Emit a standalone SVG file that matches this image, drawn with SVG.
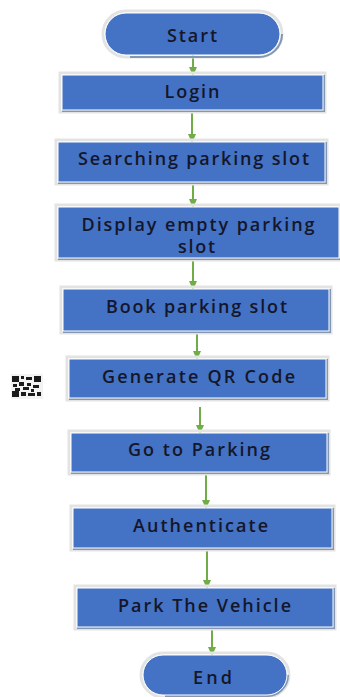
<svg xmlns="http://www.w3.org/2000/svg" width="340" height="697" viewBox="0 0 340 697">
<defs>
<marker id="ah" markerWidth="9" markerHeight="8" refX="8" refY="4" orient="auto" markerUnits="userSpaceOnUse">
<path d="M0,0 L9,4 L0,8 Z" fill="#70AD47"/>
</marker>
</defs>
<style>
.box{fill:#4472C4;stroke:#ffffff;stroke-width:1}
.halo{fill:none;stroke:#e3e3e3;stroke-width:3}
.sh{fill:none;stroke:#8497B0;stroke-width:2}
.t{font-family:"Open Sans","Noto Sans","Liberation Sans",sans-serif;font-weight:600;font-size:18px;fill:#14162a;text-anchor:middle;dominant-baseline:central}
.c{stroke:#70AD47;stroke-width:2;fill:none;marker-end:url(#ah)}
</style>
<rect width="340" height="697" fill="#ffffff"/>

<g id="connectors">
<line class="c" x1="193" y1="53" x2="193" y2="75"/>
<line class="c" x1="192" y1="113" x2="192" y2="142"/>
<line class="c" x1="193" y1="184" x2="193" y2="207"/>
<line class="c" x1="193" y1="260" x2="193" y2="289"/>
<line class="c" x1="197" y1="334" x2="197" y2="359"/>
<line class="c" x1="200" y1="407" x2="200" y2="433"/>
<line class="c" x1="206" y1="474" x2="206" y2="508"/>
<line class="c" x1="207" y1="550" x2="207" y2="588"/>
<line class="c" x1="212" y1="622" x2="212" y2="655"/>
</g>

<g id="start">
<rect class="halo" x="103" y="11" width="179" height="46" rx="23"/>
<path class="sh" d="M130,57 L258,57 A23,23 0 0 0 282,34"/>
<rect class="box" x="105" y="13" width="175" height="42" rx="21" stroke-width="2"/>
<text class="t" x="192" y="35" textLength="50">Start</text>
</g>

<g id="login">
<rect class="halo" x="60" y="73" width="265" height="39"/>
<path class="sh" d="M62,111 L324,111 L324,75"/>
<rect class="box" x="62" y="75" width="261" height="35"/>
<text class="t" x="192" y="91" textLength="55">Login</text>
</g>

<g id="search">
<rect class="halo" x="56" y="140" width="271" height="44"/>
<path class="sh" d="M58,183 L326,183 L326,142"/>
<rect class="box" x="58" y="142" width="267" height="40"/>
<text class="t" x="193.5" y="158" textLength="231">Searching parking slot</text>
</g>

<g id="display">
<rect class="halo" x="56" y="205" width="284" height="55"/>
<path class="sh" d="M58,259 L340,259"/>
<rect class="box" x="58" y="207" width="281" height="51"/>
<text class="t" x="198" y="224" textLength="233">Display empty parking</text>
<text class="t" x="196.5" y="246" textLength="37">slot</text>
</g>

<g id="book">
<rect class="halo" x="61" y="287" width="270" height="46"/>
<path class="sh" d="M63,332 L330,332 L330,289"/>
<rect class="box" x="63" y="289" width="266" height="42"/>
<text class="t" x="196.5" y="306" textLength="181">Book parking slot</text>
</g>

<g id="generate">
<rect class="halo" x="67" y="357" width="261" height="43"/>
<path class="sh" d="M69,399 L327,399 L327,359"/>
<rect class="box" x="69" y="359" width="257" height="39"/>
<text class="t" x="198.5" y="376" textLength="193">Generate QR Code</text>
</g>

<g id="goto">
<rect class="halo" x="69" y="431" width="260" height="43"/>
<path class="sh" d="M71,473 L328,473 L328,433"/>
<rect class="box" x="71" y="433" width="256" height="39"/>
<text class="t" x="199" y="449" textLength="142">Go to Parking</text>
</g>

<g id="auth">
<rect class="halo" x="71" y="506" width="263" height="44"/>
<path class="sh" d="M73,549 L333,549 L333,508"/>
<rect class="box" x="73" y="508" width="259" height="40"/>
<text class="t" x="200.5" y="525" textLength="135">Authenticate</text>
</g>

<g id="park">
<rect class="halo" x="75" y="586" width="260" height="43"/>
<path class="sh" d="M77,628 L334,628 L334,588"/>
<rect class="box" x="77" y="588" width="256" height="39"/>
<text class="t" x="204.5" y="605" textLength="173">Park The Vehicle</text>
</g>

<g id="end">
<rect class="halo" x="141" y="653" width="148" height="44" rx="22"/>
<path class="sh" d="M165,696 L266,696 A21,21 0 0 0 288,675"/>
<rect class="box" x="143" y="655" width="144" height="40" rx="20" stroke-width="2"/>
<text class="t" x="212.5" y="677" textLength="39">End</text>
</g>

<g id="qr">
<rect x="11" y="374" width="32" height="25" fill="#f2f2f2"/>
<g fill="#1a1a1a">
<rect x="12" y="376" width="7" height="6"/>
<rect x="21" y="376" width="3" height="3"/>
<rect x="26" y="377" width="6" height="3"/>
<rect x="34" y="376" width="7" height="6"/>
<rect x="13" y="384" width="4" height="3"/>
<rect x="19" y="382" width="5" height="4"/>
<rect x="27" y="383" width="4" height="3"/>
<rect x="33" y="385" width="6" height="3"/>
<rect x="15" y="388" width="5" height="3"/>
<rect x="23" y="387" width="6" height="3"/>
<rect x="31" y="389" width="3" height="3"/>
<rect x="12" y="391" width="7" height="6"/>
<rect x="21" y="392" width="5" height="4"/>
<rect x="28" y="393" width="7" height="3"/>
<rect x="37" y="392" width="4" height="4"/>
</g>
</g>
</svg>
